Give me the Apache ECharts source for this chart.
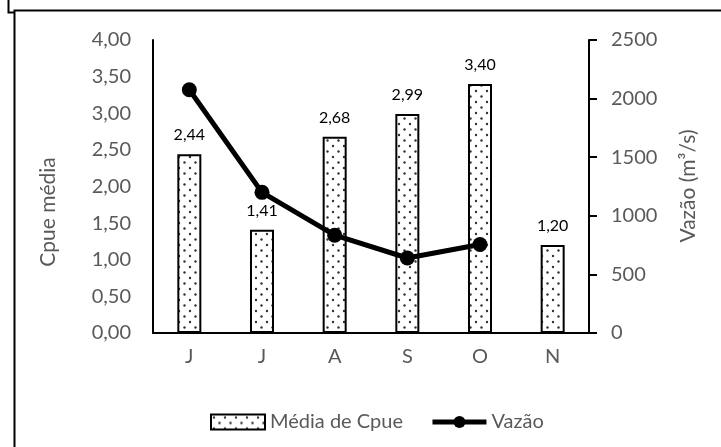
<!DOCTYPE html>
<html><head><meta charset="utf-8">
<script src="https://cdn.jsdelivr.net/npm/echarts@6/dist/echarts.min.js"></script>
<style>html,body{margin:0;padding:0;background:#fff}#c{width:721px;height:447px}</style>
</head><body><div id="c"></div>
<script>
const categories = ['J','J','A','S','O','N'];
const cpue = [2.44, 1.41, 2.68, 2.99, 3.40, 1.20];
const vazao = [2075, 1200, 835, 640, 755, null];
const leftTicks = {min:0, max:4, interval:0.5};
const rightTicks = {min:0, max:2500, interval:500};

function makePattern(){
  const c = document.createElement('canvas');
  c.width = 11; c.height = 11;
  const g = c.getContext('2d');
  g.fillStyle = '#fff'; g.fillRect(0,0,11,11);
  g.fillStyle = '#333';
  g.beginPath(); g.arc(3,3,1.2,0,Math.PI*2); g.fill();
  g.beginPath(); g.arc(8.5,8.5,1.2,0,Math.PI*2); g.fill();
  return c;
}
const pat = {image: makePattern(), repeat: 'repeat'};
const font = 'Lato';
const chart = echarts.init(document.getElementById('c'));
chart.setOption({
  animation:false,
  backgroundColor:'#fff',
  textStyle:{fontFamily:font},
  grid:{left:153, right:132, top:40, bottom:114},
  legend:{
    left:205, top:407, itemGap:27, itemWidth:54, itemHeight:15,
    textStyle:{fontFamily:font, fontSize:20, color:'#595959'},
    data:[{name:'Média de Cpue', icon:'rect'},{name:'Vazão', lineStyle:{width:5}}]
  },
  xAxis:{
    type:'category', data:categories,
    axisLine:{lineStyle:{color:'#000', width:2}},
    axisTick:{show:false},
    axisLabel:{fontFamily:font, fontSize:20, color:'#595959', margin:14}
  },
  yAxis:[
    {type:'value', min:leftTicks.min, max:leftTicks.max, interval:leftTicks.interval,
     axisLine:{show:true, lineStyle:{color:'#000', width:2}},
     axisTick:{show:false}, splitLine:{show:false},
     axisLabel:{fontFamily:font, fontSize:20, color:'#595959', margin:22,
       formatter:v=>v.toFixed(2).replace('.',',')}},
    {type:'value', min:rightTicks.min, max:rightTicks.max, interval:rightTicks.interval,
     position:'right',
     axisLine:{show:true, lineStyle:{color:'#000', width:2}},
     axisTick:{show:true, length:8, lineStyle:{color:'#000', width:2}},
     splitLine:{show:false},
     axisLabel:{fontFamily:font, fontSize:20, color:'#595959', margin:22,
       formatter:v=>String(v)}}
  ],
  series:[
    {name:'Média de Cpue', type:'bar', data:cpue, yAxisIndex:0, barWidth:24,
     itemStyle:{color:pat, borderColor:'#000', borderWidth:2},
     label:{show:true, position:'top', distance:11, fontFamily:font, fontSize:16, color:'#000',
       formatter:p=>p.value.toFixed(2).replace('.',',')}},
    {name:'Vazão', type:'line', data:vazao, yAxisIndex:1,
     symbol:'circle', symbolSize:15,
     lineStyle:{color:'#000', width:5}, itemStyle:{color:'#000'}}
  ],
  graphic:[
    {type:'text', x:48, y:212, rotation:Math.PI/2,
     style:{text:'Cpue média', font:'21px '+font, fill:'#595959', textAlign:'center', textVerticalAlign:'middle'}},
    {type:'text', x:688, y:186, rotation:Math.PI/2,
     style:{text:'Vazão (m³/s)', font:'21px '+font, fill:'#595959', textAlign:'center', textVerticalAlign:'middle'}},
    {type:'polyline', shape:{points:[[8.5,0],[8.5,12.5],[14.5,12.5]]}, style:{stroke:'#000', lineWidth:2, fill:null}},
    {type:'polyline', shape:{points:[[14.5,447],[14.5,10.5],[721,10.5]]}, style:{stroke:'#000', lineWidth:2, fill:null}}
  ]
});
</script></body></html>
